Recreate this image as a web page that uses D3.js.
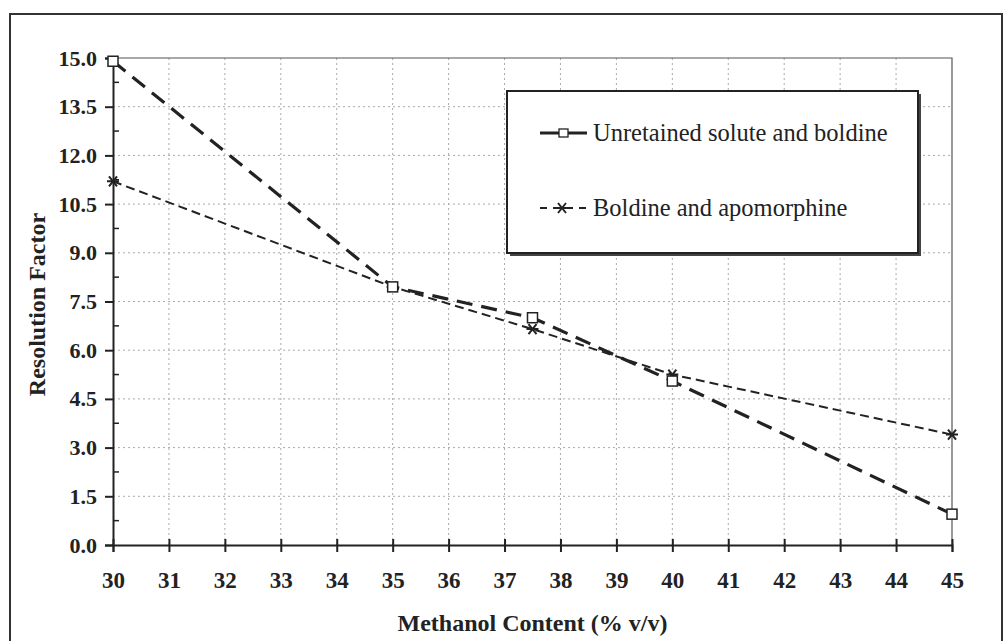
<!DOCTYPE html>
<html>
<head>
<meta charset="utf-8">
<script src="https://cdn.jsdelivr.net/npm/d3@7"></script>
<style>
  body { margin: 0; background: #fff; }
  text { font-family: "Liberation Serif", "DejaVu Serif", serif; fill: #222; }
</style>
</head>
<body>
<div id="chart"></div>
<script>
    // data
    var methanol = [30, 35, 37.5, 40, 45];
    var unretained = [14.9, 7.95, 7.0, 5.05, 0.95];
    var boldine = [11.2, 7.95, 6.65, 5.25, 3.4];
    var xTicks = d3.range(30, 46, 1);
    var yTicks = d3.range(0, 15.01, 1.5);
    var seriesNames = ["Unretained solute and boldine", "Boldine and apomorphine"];

    var W = 1005, H = 641;
    var margin = { top: 58, right: 53, bottom: 96, left: 113 },
        width = W - margin.left - margin.right,
        height = H - margin.top - margin.bottom;

    var svgRoot = d3.select("#chart")
        .append("svg")
        .attr("width", W)
        .attr("height", H);

    // outer frame
    svgRoot.append("rect")
        .attr("x", 10).attr("y", 14)
        .attr("width", 992).attr("height", 640)
        .attr("fill", "none")
        .attr("stroke", "#333")
        .attr("stroke-width", 2);

    var svg = svgRoot.append("g")
        .attr("transform", "translate(" + margin.left + "," + margin.top + ")");

    var x = d3.scaleLinear().domain([30, 45]).range([0, width]);
    var y = d3.scaleLinear().domain([0, 15]).range([height, 0]);

    // dotted grid
    svg.append("g").selectAll("line.gx")
        .data(xTicks.slice(1, -1))
        .enter().append("line")
        .attr("x1", d => x(d)).attr("x2", d => x(d))
        .attr("y1", 0).attr("y2", height)
        .attr("stroke", "#aaa").attr("stroke-width", 1)
        .attr("stroke-dasharray", "2,3");
    svg.append("g").selectAll("line.gy")
        .data(yTicks.slice(1, -1))
        .enter().append("line")
        .attr("x1", 0).attr("x2", width)
        .attr("y1", d => y(d)).attr("y2", d => y(d))
        .attr("stroke", "#aaa").attr("stroke-width", 1)
        .attr("stroke-dasharray", "2,3");

    // plot frame (top and right)
    svg.append("path")
        .attr("d", "M0,0H" + width + "V" + height)
        .attr("fill", "none").attr("stroke", "#555").attr("stroke-width", 1.2);

    // x axis: ticks crossing the line
    var xAxis = svg.append("g")
        .attr("transform", "translate(0," + height + ")")
        .call(d3.axisBottom(x).tickValues(xTicks).tickSize(7).tickFormat(d3.format("d")));
    xAxis.selectAll(".tick line").attr("y1", -6).attr("stroke", "#222").attr("stroke-width", 2);
    xAxis.select(".domain").attr("stroke", "#222").attr("stroke-width", 1.8);
    xAxis.selectAll("text")
        .attr("dy", 0).attr("y", 43)
        .style("font-size", "23px").style("font-weight", "bold");

    // y axis
    var yAxis = svg.append("g")
        .call(d3.axisLeft(y).tickValues(yTicks).tickSize(8).tickFormat(d3.format(".1f")));
    yAxis.selectAll(".tick line").attr("stroke", "#222").attr("stroke-width", 2);
    yAxis.select(".domain").attr("stroke", "#222").attr("stroke-width", 2);
    yAxis.selectAll("text")
        .attr("x", -16)
        .style("font-size", "22px").style("font-weight", "bold");
    // minor ticks inside
    svg.append("g").selectAll("line")
        .data(yTicks.slice(0, -1).map(d => d + 0.75))
        .enter().append("line")
        .attr("x1", 0).attr("x2", 6)
        .attr("y1", d => y(d)).attr("y2", d => y(d))
        .attr("stroke", "#222").attr("stroke-width", 1.5);

    // axis titles
    svg.append("text")
        .attr("x", width / 2).attr("y", height + 86)
        .attr("text-anchor", "middle")
        .style("font-size", "24px").style("font-weight", "bold")
        .text("Methanol Content (% v/v)");
    svg.append("text")
        .attr("transform", "translate(-68," + (height / 2 + 3) + ") rotate(-90)")
        .attr("text-anchor", "middle")
        .style("font-size", "24px").style("font-weight", "bold")
        .text("Resolution Factor");

    // lines
    var line = d3.line().x(d => x(d[0])).y(d => y(d[1]));
    var d1 = methanol.map((m, i) => [m, unretained[i]]);
    var d2 = methanol.map((m, i) => [m, boldine[i]]);

    svg.append("path").datum(d2)
        .attr("d", line).attr("fill", "none")
        .attr("stroke", "#222").attr("stroke-width", 2)
        .attr("stroke-dasharray", "9,5");
    svg.append("path").datum(d1)
        .attr("d", line).attr("fill", "none")
        .attr("stroke", "#222").attr("stroke-width", 3.2)
        .attr("stroke-dasharray", "16,9");

    // asterisk markers
    var star = "M-6,0H6M-4,-5L4,5M-4,5L4,-5";
    svg.append("g").selectAll("path")
        .data(d2).enter().append("path")
        .attr("transform", d => "translate(" + x(d[0]) + "," + y(d[1]) + ")")
        .attr("d", star).attr("stroke", "#222").attr("stroke-width", 2);
    // square markers
    svg.append("g").selectAll("rect")
        .data(d1).enter().append("rect")
        .attr("x", d => x(d[0]) - 5).attr("y", d => y(d[1]) - 5)
        .attr("width", 10).attr("height", 10)
        .attr("fill", "#fff").attr("stroke", "#222").attr("stroke-width", 1.5);

    // legend
    var lg = svgRoot.append("g").attr("transform", "translate(507,91)");
    lg.append("rect")
        .attr("x", 3).attr("y", 3).attr("width", 411).attr("height", 162)
        .attr("fill", "#444");
    lg.append("rect")
        .attr("width", 411).attr("height", 162)
        .attr("fill", "#fff").attr("stroke", "#222").attr("stroke-width", 2);
    lg.append("line").attr("x1", 33).attr("x2", 80).attr("y1", 42).attr("y2", 42)
        .attr("stroke", "#222").attr("stroke-width", 3);
    lg.append("rect").attr("x", 52).attr("y", 38).attr("width", 9).attr("height", 8)
        .attr("fill", "#fff").attr("stroke", "#222").attr("stroke-width", 1.3);
    lg.append("line").attr("x1", 33).attr("x2", 84).attr("y1", 117).attr("y2", 117)
        .attr("stroke", "#222").attr("stroke-width", 1.8).attr("stroke-dasharray", "7,6,0,0");
    lg.append("path").attr("transform", "translate(55,117)")
        .attr("d", star).attr("stroke", "#222").attr("stroke-width", 2);
    lg.selectAll("text.lab")
        .data(seriesNames).enter().append("text")
        .attr("x", 86).attr("y", (d, i) => 50 + i * 75)
        .style("font-size", "24.5px")
        .text(d => d);
</script>
</body>
</html>
